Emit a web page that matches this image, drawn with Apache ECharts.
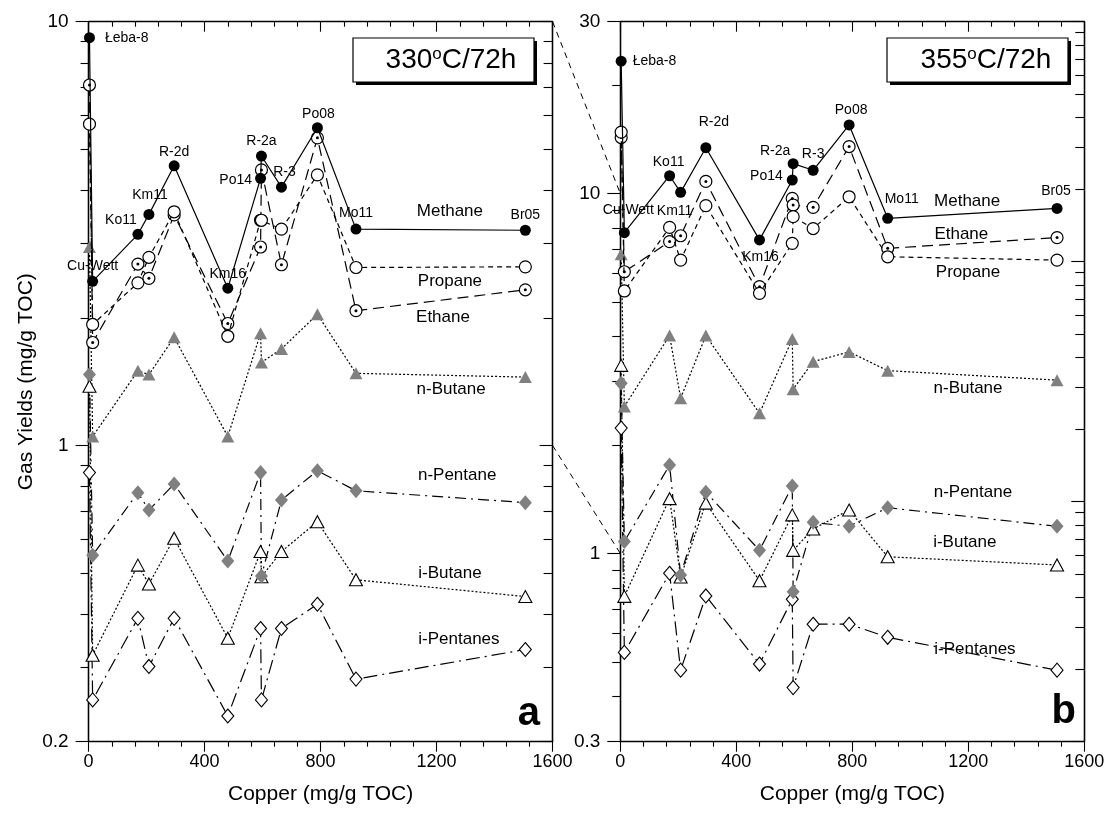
<!DOCTYPE html>
<html>
<head>
<meta charset="utf-8">
<script src="https://cdn.jsdelivr.net/npm/echarts@6/dist/echarts.min.js"></script>
<style>
  html, body { margin: 0; padding: 0; background: #fff; }
  #main { width: 1107px; height: 816px; }
</style>
</head>
<body>
<div id="main"></div>
<script>
// samples and their copper loads (mg/g TOC)
var samples = ['Łeba-8', 'Cu-Wett', 'Ko11', 'Km11', 'R-2d', 'Km16', 'Po14', 'R-2a', 'R-3', 'Po08', 'Mo11', 'Br05'];
var copper = [3, 14, 170, 208, 295, 480, 593, 596, 665, 789, 922, 1506];

// gas yields at 330 oC / 72 h (mg/g TOC)
var methane330 = [9.17, 2.44, 3.15, 3.51, 4.57, 2.35, 4.27, 4.82, 4.07, 5.62, 3.24, 3.22];
var ethane330 = [7.09, 1.75, 2.68, 2.48, 3.50, 1.94, 2.94, 4.47, 2.67, 5.32, 2.08, 2.33];
var propane330 = [5.73, 1.93, 2.42, 2.78, 3.56, 1.81, 3.40, 3.40, 3.24, 4.35, 2.63, 2.64];
var nButane330 = [2.94, 1.05, 1.50, 1.47, 1.80, 1.05, 1.84, 1.57, 1.69, 2.04, 1.48, 1.45];
var nPentane330 = [1.47, 0.551, 0.774, 0.704, 0.811, 0.534, 0.863, 0.492, 0.744, 0.872, 0.782, 0.733];
var iButane330 = [1.38, 0.320, 0.522, 0.471, 0.604, 0.351, 0.562, 0.49, 0.562, 0.661, 0.482, 0.440];
var iPentanes330 = [0.863, 0.251, 0.391, 0.301, 0.391, 0.230, 0.370, 0.251, 0.370, 0.422, 0.281, 0.330];

// gas yields at 355 oC / 72 h (mg/g TOC)
var methane355 = [23.3, 7.78, 11.2, 10.07, 13.4, 7.43, 10.9, 12.1, 11.6, 15.5, 8.53, 9.09];
var ethane355 = [14.3, 6.06, 7.35, 7.63, 10.8, 5.51, 9.69, 9.29, 9.15, 13.5, 7.04, 7.54];
var propane355 = [14.8, 5.36, 8.05, 6.53, 9.25, 5.28, 7.27, 8.62, 7.99, 9.79, 6.67, 6.53];
var nButane355 = [6.78, 2.56, 4.03, 2.70, 4.03, 2.45, 3.94, 2.86, 3.41, 3.63, 3.22, 3.03];
var nPentane355 = [2.97, 1.08, 1.76, 0.871, 1.48, 1.02, 1.54, 0.783, 1.22, 1.19, 1.34, 1.19];
var iButane355 = [3.33, 0.76, 1.42, 0.86, 1.38, 0.84, 1.28, 1.02, 1.17, 1.32, 0.979, 0.929];
var iPentanes355 = [2.23, 0.531, 0.881, 0.474, 0.762, 0.493, 0.746, 0.424, 0.636, 0.636, 0.585, 0.474];

// axis ticks
var yLabels330 = [0.2, 1, 10];
var yMinor330 = [0.3, 0.4, 0.5, 0.6, 0.7, 0.8, 0.9, 2, 3, 4, 5, 6, 7, 8, 9];
var yLabels355 = [0.3, 1, 10, 30];
var yMinor355 = [0.4, 0.5, 0.6, 0.7, 0.8, 0.9, 2, 3, 4, 5, 6, 7, 8, 9, 20];
var rightMajor355 = [1, 10, 100, 1000];
var rightMinor355 = [2, 3, 4, 5, 6, 7, 8, 9, 20, 30, 40, 50, 60, 70, 80, 90, 200, 300, 400, 500, 600, 700, 800, 900];

var gasNames = ['Methane', 'Ethane', 'Propane', 'n-Butane', 'n-Pentane', 'i-Butane', 'i-Pentanes'];
// where each gas name is written, in [copper, yield]
var gasNameAt330 = [[1246, 3.56], [1222, 2.01], [1246, 2.44], [1250, 1.36], [1271, 0.852], [1246, 0.50], [1277, 0.3495]];
var gasNameAt355 = [[1196, 9.52], [1176, 7.72], [1199, 6.05], [1199, 2.88], [1216, 1.48], [1188, 1.076], [1223, 0.542]];

// sample label placement on the methane points
var sampleLabel330 = [['right', [5, 0]], ['top', [0, 2]], ['top', [-17, 3]], ['top', [1, -2]], ['top', [0, 4]], ['top', [0, 3]],
  ['left', [2, 2]], ['top', [0, 3]], ['top', [3, 2]], ['top', [1, 4]], ['top', [0, 2]], ['top', [0, 2]]];
var sampleLabel355 = [['right', [1, 0]], ['top', [4, -5]], ['top', [-1, 4]], ['bottom', [-6, 1]], ['top', [8, -8]], ['bottom', [1, 0]],
  ['left', [1, -4]], ['top', [-18, 5]], ['top', [0, 1]], ['top', [2, 3]], ['top', [14, -2]], ['top', [-1, 0]]];

var FONT = 'Liberation Sans, Arial, sans-serif';
var GREY = '#808080';

var styles = {
  'Methane': { symbol: 'circle', size: 11, fill: '#000', border: '#000', bw: 0, dash: 'solid', z: 6 },
  'Ethane': { symbol: 'circle', size: 12, fill: '#fff', border: '#000', bw: 1.2, dash: [11, 6], z: 3 },
  'Propane': { symbol: 'circle', size: 12, fill: '#fff', border: '#000', bw: 1.2, dash: [5, 4], z: 5 },
  'n-Butane': { symbol: 'triangle', size: [13, 12], fill: GREY, border: GREY, bw: 0, dash: [2, 2], z: 2 },
  'n-Pentane': { symbol: 'diamond', size: [13, 15], fill: GREY, border: GREY, bw: 0, dash: [11, 5, 2, 5], z: 2 },
  'i-Butane': { symbol: 'triangle', size: [13, 12], fill: '#fff', border: '#000', bw: 1.1, dash: [2, 2], z: 2 },
  'i-Pentanes': { symbol: 'diamond', size: [12, 14], fill: '#fff', border: '#000', bw: 1.1, dash: [14, 5, 2, 5], z: 2 }
};

function pairs(vals) {
  return copper.map(function (c, i) { return [c, vals[i]]; });
}

function gasSeries(panel, name, vals, labels) {
  var st = styles[name];
  var data = pairs(vals);
  if (labels) {
    data = data.map(function (d, i) {
      return {
        value: d,
        label: {
          show: true, formatter: samples[i], position: labels[i][0], offset: labels[i][1],
          distance: 5, color: '#000', fontSize: 14, fontFamily: FONT
        }
      };
    });
  }
  return {
    type: 'line', name: name, xAxisIndex: panel * 2, yAxisIndex: panel * 5, z: st.z,
    data: data, symbol: st.symbol, symbolSize: st.size, showSymbol: true,
    lineStyle: { color: '#000', width: 1.2, type: st.dash },
    itemStyle: { color: st.fill, borderColor: st.border, borderWidth: st.bw },
    silent: true, animation: false
  };
}

// the centre dot of the ethane symbol
function dotSeries(panel, vals) {
  return {
    type: 'scatter', xAxisIndex: panel * 2, yAxisIndex: panel * 5, z: 4,
    data: pairs(vals), symbol: 'circle', symbolSize: 3,
    itemStyle: { color: '#000', opacity: 1 }, silent: true, animation: false
  };
}

function nameSeries(panel, anchors) {
  return {
    type: 'scatter', xAxisIndex: panel * 2, yAxisIndex: panel * 5, z: 7,
    data: anchors.map(function (a, i) { return { value: a, name: gasNames[i] }; }),
    symbolSize: 1, itemStyle: { color: 'rgba(0,0,0,0)', opacity: 1 },
    label: { show: true, position: 'inside', formatter: '{b}', color: '#000', fontSize: 17, fontFamily: FONT },
    silent: true, animation: false
  };
}

function panelSeries(panel, sets, anchors, labels) {
  return [
    gasSeries(panel, 'i-Pentanes', sets.iPentanes),
    gasSeries(panel, 'i-Butane', sets.iButane),
    gasSeries(panel, 'n-Pentane', sets.nPentane),
    gasSeries(panel, 'n-Butane', sets.nButane),
    gasSeries(panel, 'Ethane', sets.ethane),
    dotSeries(panel, sets.ethane),
    gasSeries(panel, 'Propane', sets.propane),
    gasSeries(panel, 'Methane', sets.methane, labels),
    nameSeries(panel, anchors)
  ];
}

var lg = function (v) { return Math.log10(v); };

function xAxes(grid) {
  var base = {
    type: 'value', gridIndex: grid, min: 0, max: 1600, interval: 400,
    axisLine: { show: true, onZero: false, lineStyle: { color: '#000', width: 1.3 } },
    axisTick: { show: true, length: 10, lineStyle: { color: '#000', width: 1.1 } },
    minorTick: { show: true, splitNumber: 5, length: 5, lineStyle: { color: '#000', width: 1.1 } },
    splitLine: { show: false }
  };
  var bottom = Object.assign({}, base, {
    position: 'bottom',
    axisLabel: {
      show: true, color: '#000', fontSize: 18, fontFamily: FONT, margin: 11,
      formatter: function (v) { return String(v); }
    },
    name: 'Copper (mg/g TOC)', nameLocation: 'middle', nameGap: 42,
    nameTextStyle: { color: '#000', fontSize: 21, fontFamily: FONT }
  });
  var top = Object.assign({}, base, {
    position: 'top',
    axisTick: { show: true, inside: true, length: 10, lineStyle: { color: '#000', width: 1.1 } },
    axisLabel: { show: false }
  });
  return [bottom, top];
}

function dataY(grid, lo, hi) {
  return {
    type: 'log', logBase: 10, gridIndex: grid, min: lo, max: hi,
    axisLine: { show: false }, axisTick: { show: false }, axisLabel: { show: false }, splitLine: { show: false }
  };
}

// tick-only axes laid out in log10 space, same span as the data axis
function decoY(grid, pos, lo, hi, ticks, len, inside, labels, extra) {
  var ax = {
    type: 'value', gridIndex: grid, position: pos, min: lg(lo), max: lg(hi),
    axisLine: { show: true, onZero: false, lineStyle: { color: '#000', width: 1.3 } },
    axisTick: { show: true, inside: inside, length: len, customValues: ticks.map(lg), lineStyle: { color: '#000', width: 1.1 } },
    axisLabel: labels ? {
      show: true, customValues: labels.map(lg), color: '#000', fontSize: 19, fontFamily: FONT, margin: 20,
      formatter: function (v) { return String(+Math.pow(10, v).toPrecision(2)); }
    } : { show: false },
    splitLine: { show: false }
  };
  return Object.assign(ax, extra || {});
}

var yName = {
  name: 'Gas Yields (mg/g TOC)', nameLocation: 'middle', nameGap: 52, nameRotate: 90, nameMoveOverlap: false,
  nameTextStyle: { color: '#000', fontSize: 21, fontFamily: FONT }
};

var option = {
  backgroundColor: '#fff',
  animation: false,
  grid: [
    { left: 88.6, top: 21.7, width: 464, height: 720, outerBoundsMode: 'none' },
    { left: 620.3, top: 21.7, width: 464, height: 720, outerBoundsMode: 'none' }
  ],
  xAxis: xAxes(0).concat(xAxes(1)),
  yAxis: [
    dataY(0, 0.2, 10),
    decoY(0, 'left', 0.2, 10, yLabels330, 13, false, yLabels330, yName),
    decoY(0, 'left', 0.2, 10, yMinor330, 8, false, null),
    decoY(0, 'right', 0.2, 10, yLabels330, 13, true, null),
    decoY(0, 'right', 0.2, 10, yMinor330, 9, true, null),
    dataY(1, 0.3, 30),
    decoY(1, 'left', 0.3, 30, yLabels355, 13, false, yLabels355),
    decoY(1, 'left', 0.3, 30, yMinor355, 8, false, null),
    decoY(1, 'right', 1, 1000, rightMajor355, 13, true, null),
    decoY(1, 'right', 1, 1000, rightMinor355, 9, true, null)
  ],
  series: [].concat(
    panelSeries(0, {
      methane: methane330, ethane: ethane330, propane: propane330, nButane: nButane330,
      nPentane: nPentane330, iButane: iButane330, iPentanes: iPentanes330
    }, gasNameAt330, sampleLabel330),
    panelSeries(1, {
      methane: methane355, ethane: ethane355, propane: propane355, nButane: nButane355,
      nPentane: nPentane355, iButane: iButane355, iPentanes: iPentanes355
    }, gasNameAt355, sampleLabel355)
  )
};

var chart = echarts.init(document.getElementById('main'));
chart.setOption(option);

// dashed links between equal yields of the two panels, plus boxes and panel letters
function px(xi, yi, v) { return chart.convertToPixel({ xAxisIndex: xi, yAxisIndex: yi }, v); }
var linkValues = [10, 1];
var graphics = linkValues.map(function (v) {
  var a = px(0, 0, [1600, v]);
  var b = px(2, 5, [0, v]);
  return {
    type: 'line', shape: { x1: a[0], y1: a[1], x2: b[0], y2: b[1] },
    style: { stroke: '#000', lineWidth: 1, lineDash: [6, 5] }, silent: true
  };
});

function titleBox(x, y, label, textX) {
  return [
    { type: 'rect', shape: { x: x + 3, y: y + 3, width: 181, height: 44 }, style: { fill: '#000' }, z: 20 },
    { type: 'rect', shape: { x: x, y: y, width: 181, height: 44 }, style: { fill: '#fff', stroke: '#000', lineWidth: 1.2 }, z: 21 },
    {
      type: 'text', z: 22, style: {
        x: textX, y: y + 22, text: label, align: 'center', verticalAlign: 'middle',
        fontSize: 28, fontFamily: FONT, fill: '#000',
        rich: { s: { fontSize: 17, fontFamily: FONT, verticalAlign: 'top', padding: [0, 0, 6, 0], fill: '#000' } }
      }
    }
  ];
}
graphics = graphics.concat(titleBox(353, 38, '330{s|o}C/72h', 451));
graphics = graphics.concat(titleBox(887, 38, '355{s|o}C/72h', 986));
graphics.push({ type: 'text', z: 22, style: { x: 540, y: 734, text: 'a', align: 'right', verticalAlign: 'bottom', font: 'bold 40px ' + FONT, fill: '#000' } });
graphics.push({ type: 'text', z: 22, style: { x: 1076, y: 732, text: 'b', align: 'right', verticalAlign: 'bottom', font: 'bold 40px ' + FONT, fill: '#000' } });

chart.setOption({ graphic: graphics });
</script>
</body>
</html>
